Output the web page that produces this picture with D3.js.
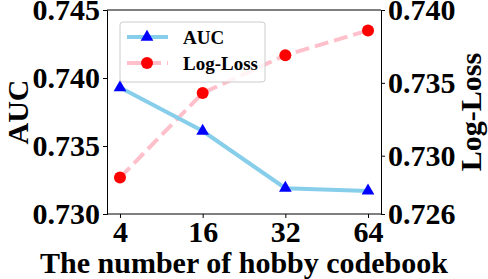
<!DOCTYPE html>
<html><head><meta charset="utf-8">
<script src="https://cdn.jsdelivr.net/npm/d3@7"></script>
<style>body{margin:0;background:#fff}svg{display:block}text{font-family:"Liberation Serif","Times New Roman",serif;font-weight:bold}</style>
</head><body><div id="c"></div>
<script>
const categories = ["4","16","32","64"];
const aucValues = [0.7393, 0.7361, 0.7319, 0.7317];
const loglossValues = [0.7285, 0.7343, 0.7369, 0.7386];
const leftTicks = [0.730, 0.735, 0.740, 0.745];
const rightTicks = [0.726, 0.730, 0.735, 0.740];

const W = 488, H = 279;
const m = {l:107, r:107, t:10, b:65};
const svg = d3.select("#c").append("svg").attr("width", W).attr("height", H);
const x = d3.scalePoint().domain(categories).range([m.l, W - m.r]).padding(0.157);
const yL = d3.scaleLinear().domain([0.730, 0.745]).range([H - m.b, m.t]);
const yR = d3.scaleLinear().domain([0.726, 0.740]).range([H - m.b, m.t]);

const fs = 30;
const gx = svg.append("g").attr("transform", `translate(0,${H - m.b})`).call(d3.axisBottom(x).tickSize(4).tickPadding(3));
const gl = svg.append("g").attr("transform", `translate(${m.l},0)`).call(d3.axisLeft(yL).tickValues(leftTicks).tickFormat(d3.format(".3f")).tickSize(4).tickPadding(3));
const gr = svg.append("g").attr("transform", `translate(${W - m.r},0)`).call(d3.axisRight(yR).tickValues(rightTicks).tickFormat(d3.format(".3f")).tickSize(4).tickPadding(3));
[gx, gl, gr].forEach(g => {
  g.selectAll("text").attr("font-size", fs).attr("fill", "#000").style("font-family", '"Liberation Serif",serif').style("font-weight", "bold");
  g.selectAll("line,path").attr("stroke", "#000");
});
gx.select(".domain").remove();
svg.append("line").attr("x1", m.l).attr("x2", W - m.r).attr("y1", H - m.b).attr("y2", H - m.b).attr("stroke", "#000");
svg.append("line").attr("x1", m.l).attr("x2", W - m.r).attr("y1", m.t).attr("y2", m.t).attr("stroke", "#000");

// series
const lineL = d3.line().x((d,i) => x(categories[i])).y(d => yL(d));
const lineR = d3.line().x((d,i) => x(categories[i])).y(d => yR(d));
svg.append("path").datum(loglossValues).attr("d", lineR).attr("fill", "none").attr("stroke", "#FFC0CB").attr("stroke-width", 4).attr("stroke-dasharray", "14,6");
svg.append("path").datum(aucValues).attr("d", lineL).attr("fill", "none").attr("stroke", "#87CEEB").attr("stroke-width", 4);
const tri = d3.symbol().type(d3.symbolTriangle).size(70);
svg.selectAll(".ta").data(aucValues).enter().append("path").attr("d", tri)
  .attr("transform", (d,i) => `translate(${x(categories[i])},${yL(d)})`).attr("fill", "#0000FF");
svg.selectAll(".cl").data(loglossValues).enter().append("circle")
  .attr("cx", (d,i) => x(categories[i])).attr("cy", d => yR(d)).attr("r", 6).attr("fill", "#FF0000");

// axis titles
svg.append("text").attr("x", 244).attr("y", 273).attr("text-anchor", "middle").attr("font-size", fs).text("The number of hobby codebook");
svg.append("text").attr("transform", `translate(28,112) rotate(-90)`).attr("text-anchor", "middle").attr("font-size", fs).text("AUC");
svg.append("text").attr("transform", `translate(481,112) rotate(-90)`).attr("text-anchor", "middle").attr("font-size", fs).text("Log-Loss");

// legend
const lg = svg.append("g");
lg.append("rect").attr("x", 120).attr("y", 22).attr("width", 145).attr("height", 60).attr("rx", 3)
  .attr("fill", "#fff").attr("fill-opacity", 0.8).attr("stroke", "#ccc");
const items = [{n:"AUC", c:"#87CEEB", dash:null, m:"tri"}, {n:"Log-Loss", c:"#FFC0CB", dash:"14,6", m:"circ"}];
items.forEach((it, i) => {
  const yy = 37 + i * 26;
  lg.append("line").attr("x1", 127).attr("x2", 168).attr("y1", yy).attr("y2", yy).attr("stroke", it.c).attr("stroke-width", 4).attr("stroke-dasharray", it.dash);
  if (it.m === "tri") lg.append("path").attr("d", tri).attr("transform", `translate(147,${yy})`).attr("fill", "#0000FF");
  else lg.append("circle").attr("cx", 147).attr("cy", yy).attr("r", 6).attr("fill", "#FF0000");
  lg.append("text").attr("x", 183).attr("y", yy + 6.5).attr("font-size", 19).text(it.n);
});
</script></body></html>
